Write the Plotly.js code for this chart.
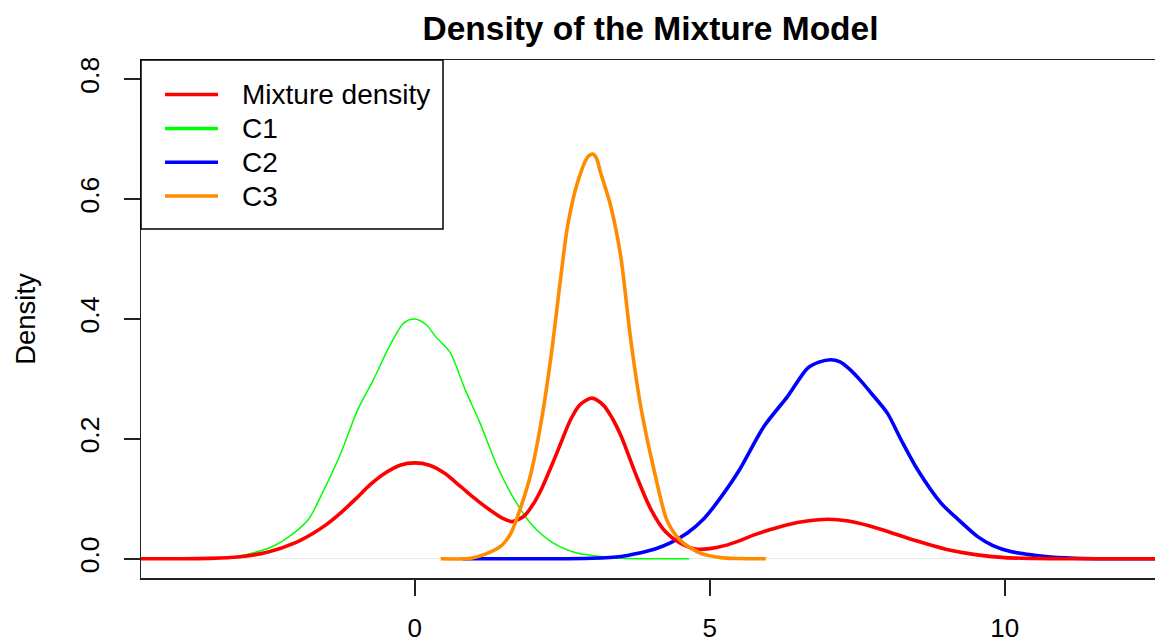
<!DOCTYPE html>
<html>
<head>
<meta charset="utf-8">
<script src="https://cdn.plot.ly/plotly-3.0.1.min.js"></script>
<style>
  html, body { margin: 0; padding: 0; background: #ffffff; }
  #chart { width: 1155px; height: 643px; }
</style>
</head>
<body>
<div id="chart"></div>
<script>
// ---- Data ----
var seriesNames = ["Mixture density", "C1", "C2", "C3"];
var seriesColors = ["#FF0000", "#00FF00", "#0000FF", "#FF8C00"];

var mixX = [-5, -4, -3.5, -3, -2.5, -2, -1.75, -1.5, -1.25, -1, -0.75, -0.5, -0.25, 0, 0.25, 0.5, 0.75, 1, 1.25, 1.5, 1.65, 1.85, 2.0, 2.15, 2.36, 2.5, 2.64, 2.8, 3, 3.2, 3.35, 3.5, 3.75, 4, 4.25, 4.5, 4.78, 5, 5.25, 5.5, 5.75, 6, 6.32, 6.65, 7, 7.35, 7.7, 8, 8.5, 9, 9.5, 10, 10.5, 11, 12, 13];
var mixY = [0, 0.0001, 0.0007, 0.003, 0.011, 0.028, 0.041, 0.057, 0.077, 0.100, 0.124, 0.143, 0.156, 0.160, 0.156, 0.143, 0.123, 0.102, 0.083, 0.067, 0.062, 0.071, 0.090, 0.117, 0.165, 0.199, 0.232, 0.257, 0.268, 0.256, 0.234, 0.204, 0.140, 0.083, 0.045, 0.026, 0.016, 0.017, 0.022, 0.030, 0.040, 0.048, 0.057, 0.063, 0.066, 0.063, 0.055, 0.046, 0.030, 0.016, 0.007, 0.002, 0.0007, 0.0002, 0, 0];

var c1X = [-3.6, -3.3, -3.0, -2.7, -2.4, -2.1, -1.8, -1.55, -1.25, -0.97, -0.7, -0.4, -0.18, 0, 0.2, 0.35, 0.6, 0.85, 1.1, 1.4, 1.7, 2.0, 2.35, 2.7, 3.05, 3.5, 4.0, 4.65];
var c1Y = [0, 0.001, 0.004, 0.011, 0.021, 0.039, 0.066, 0.113, 0.177, 0.248, 0.299, 0.360, 0.394, 0.400, 0.390, 0.371, 0.344, 0.283, 0.228, 0.154, 0.097, 0.055, 0.026, 0.011, 0.005, 0.001, 0, 0];

var c2X = [0.81, 2.0, 3.0, 3.5, 3.77, 4.06, 4.34, 4.62, 4.9, 5.07, 5.47, 5.92, 6.32, 6.66, 6.85, 7.05, 7.2, 7.35, 7.55, 7.73, 8.01, 8.24, 8.52, 8.92, 9.25, 9.54, 9.8, 10.1, 10.5, 10.78, 11.35, 12, 13];
var c2Y = [0, 0, 0.001, 0.004, 0.009, 0.016, 0.027, 0.043, 0.067, 0.087, 0.143, 0.221, 0.271, 0.318, 0.328, 0.332, 0.329, 0.318, 0.298, 0.277, 0.243, 0.199, 0.149, 0.093, 0.062, 0.037, 0.022, 0.012, 0.006, 0.003, 0.0005, 0, 0];

var c3X = [0.44, 0.95, 1.23, 1.46, 1.63, 1.80, 1.97, 2.14, 2.31, 2.47, 2.59, 2.76, 2.93, 3.02, 3.08, 3.15, 3.32, 3.49, 3.66, 3.83, 4.06, 4.28, 4.51, 4.85, 5.19, 5.5, 5.95];
var c3Y = [0, 0.001, 0.009, 0.021, 0.043, 0.087, 0.143, 0.227, 0.338, 0.466, 0.555, 0.628, 0.670, 0.675, 0.668, 0.644, 0.589, 0.505, 0.366, 0.254, 0.146, 0.063, 0.030, 0.009, 0.002, 0.0005, 0];

var xTickVals = [0, 5, 10];
var xTickText = ["0", "5", "10"];
var yTickVals = [0, 0.2, 0.4, 0.6, 0.8];
var yTickText = ["0.0", "0.2", "0.4", "0.6", "0.8"];

var chartTitle = "Density of the Mixture Model";
var yTitle = "Density";

// ---- Layout constants (pixels) ----
var W = 1155, H = 643;
var ML = 141, MR = 0, MT = 60, MB = 65;
var plotW = W - ML - MR, plotH = H - MT - MB;
var FONT = "Liberation Sans, Arial, Helvetica, sans-serif";

function mkTrace(x, y, i, w) {
  return {
    type: "scatter", mode: "lines", x: x, y: y, name: seriesNames[i],
    line: { color: seriesColors[i], width: w, shape: "spline", smoothing: 0.8 },
    hoverinfo: "skip", showlegend: false, cliponaxis: true
  };
}

// draw order: C1, C2, mixture, C3
var traces = [
  mkTrace(c1X, c1Y, 1, 1.5),
  mkTrace(c2X, c2Y, 2, 3.6),
  mkTrace(mixX, mixY, 0, 3.6),
  mkTrace(c3X, c3Y, 3, 3.6)
];

// ---- Legend drawn as shapes + text (R style box) ----
function px2paperX(px) { return (px - ML) / plotW; }
function px2paperY(py) { return (H - MB - py) / plotH; }

var legendItemY = [94.5, 128.5, 162.3, 196];
var shapes = [{
  type: "rect", xref: "paper", yref: "paper",
  x0: 0, x1: px2paperX(443), y0: px2paperY(229), y1: 1,
  line: { color: "#000000", width: 1.5 }, fillcolor: "rgba(255,255,255,0)", layer: "above"
}];
var annotations = [];
for (var i = 0; i < seriesNames.length; i++) {
  shapes.push({
    type: "line", xref: "paper", yref: "paper",
    x0: px2paperX(165), x1: px2paperX(218),
    y0: px2paperY(legendItemY[i]), y1: px2paperY(legendItemY[i]),
    line: { color: seriesColors[i], width: 3.6 }, layer: "above"
  });
  annotations.push({
    xref: "paper", yref: "paper",
    x: px2paperX(240), y: px2paperY(legendItemY[i]),
    xanchor: "left", yanchor: "middle", showarrow: false,
    text: seriesNames[i],
    font: { family: FONT, size: 28, color: "#000000" }
  });
}

var layout = {
  width: W, height: H,
  margin: { l: ML, r: MR, t: MT, b: MB, pad: 0 },
  paper_bgcolor: "#ffffff", plot_bgcolor: "#ffffff",
  showlegend: false,
  title: {
    text: "<b>" + chartTitle + "</b>",
    font: { family: FONT, size: 33.5, color: "#000000" },
    x: (650.5 - ML) / plotW, xref: "paper", xanchor: "center",
    y: 1 - 28 / H, yref: "container", yanchor: "middle"
  },
  xaxis: {
    range: [-4.64, -4.64 + plotW / 59],
    tickvals: xTickVals, ticktext: xTickText,
    ticks: "outside", ticklen: 16, tickwidth: 1.5, tickcolor: "#222222",
    showline: true, linecolor: "#222222", linewidth: 1.5, mirror: true,
    showgrid: false, zeroline: false,
    tickfont: { family: FONT, size: 26, color: "#000000" },
    ticklabelstandoff: 10,
    fixedrange: true
  },
  yaxis: {
    range: [-0.032, 0.832],
    tickvals: yTickVals, ticktext: yTickText,
    tickangle: -90,
    ticks: "outside", ticklen: 16, tickwidth: 1.5, tickcolor: "#222222",
    showline: true, linecolor: "#222222", linewidth: 1.5, mirror: false,
    showgrid: false,
    zeroline: true, zerolinecolor: "#e8e8e8", zerolinewidth: 1,
    tickfont: { family: FONT, size: 26.5, color: "#000000" },
    ticklabelstandoff: 14,
    title: { text: yTitle, font: { family: FONT, size: 27.5, color: "#000000" }, standoff: 31 },
    automargin: false,
    fixedrange: true
  },
  shapes: shapes,
  annotations: annotations
};

Plotly.newPlot("chart", traces, layout, { displayModeBar: false, staticPlot: true });
</script>
</body>
</html>
